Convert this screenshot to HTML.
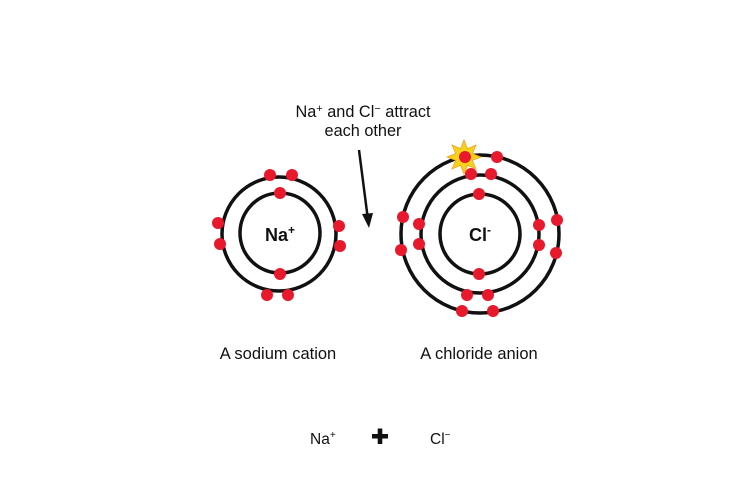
<!DOCTYPE html>
<html><head><meta charset="utf-8"><style>
html,body{margin:0;padding:0;background:#fff}
svg{display:block}
text{font-family:"Liberation Sans",Arial,sans-serif;fill:#111}
</style></head><body>
<svg width="750" height="500" viewBox="0 0 750 500" xmlns="http://www.w3.org/2000/svg">
<g fill="none" stroke="#111" stroke-width="3.5">
<circle cx="280" cy="233" r="40"/>
<circle cx="279" cy="234" r="57"/>
<circle cx="480" cy="234" r="40"/>
<circle cx="480" cy="234" r="59"/>
<circle cx="480" cy="234" r="79"/>
</g>
<polygon fill="#f7d21a" stroke="#f0a020" stroke-width="0.8" points="464,140 467.4,148.7 476,145 472.3,153.6 481,157 472.3,160.4 476,169 467.4,165.3 464,174 460.6,165.3 452,169 455.7,160.4 447,157 455.7,153.6 452,145 460.6,148.7"/>
<g fill="#e8192c">
<circle cx="280" cy="193" r="6"/><circle cx="280" cy="274" r="6"/>
<circle cx="270" cy="175" r="6"/><circle cx="292" cy="175" r="6"/>
<circle cx="267" cy="295" r="6"/><circle cx="288" cy="295" r="6"/>
<circle cx="218" cy="223" r="6"/><circle cx="220" cy="244" r="6"/>
<circle cx="339" cy="226" r="6"/><circle cx="340" cy="246" r="6"/>
<circle cx="479" cy="194" r="6"/><circle cx="479" cy="274" r="6"/>
<circle cx="471" cy="174" r="6"/><circle cx="491" cy="174" r="6"/>
<circle cx="467" cy="295" r="6"/><circle cx="488" cy="295" r="6"/>
<circle cx="419" cy="224" r="6"/><circle cx="419" cy="244" r="6"/>
<circle cx="539" cy="225" r="6"/><circle cx="539" cy="245" r="6"/>
<circle cx="465" cy="157" r="6"/><circle cx="497" cy="157" r="6"/>
<circle cx="403" cy="217" r="6"/><circle cx="401" cy="250" r="6"/>
<circle cx="557" cy="220" r="6"/><circle cx="556" cy="253" r="6"/>
<circle cx="462" cy="311" r="6"/><circle cx="493" cy="311" r="6"/>
</g>
<line x1="359" y1="150" x2="367.5" y2="216" stroke="#111" stroke-width="2.5"/>
<polygon fill="#111" points="369,228 362,214 373,213"/>
<text x="280" y="241" text-anchor="middle" font-size="18" font-weight="bold">Na<tspan font-size="12" dy="-7">+</tspan></text>
<text x="480" y="241" text-anchor="middle" font-size="18" font-weight="bold">Cl<tspan font-size="12" dy="-7">-</tspan></text>
<text x="363" y="117" text-anchor="middle" font-size="16.3">Na<tspan font-size="11" dy="-5">+</tspan><tspan dy="5"> and Cl</tspan><tspan font-size="11" dy="-5">−</tspan><tspan dy="5"> attract</tspan></text>
<text x="363" y="136" text-anchor="middle" font-size="16.3">each other</text>
<text x="278" y="359" text-anchor="middle" font-size="16.5">A sodium cation</text>
<text x="479" y="359" text-anchor="middle" font-size="16.5">A chloride anion</text>
<text x="310" y="444" font-size="15.5">Na<tspan font-size="10" dy="-6">+</tspan></text>
<rect x="372" y="434" width="16" height="4.5" fill="#111"/>
<rect x="377.7" y="428.5" width="4.6" height="15.5" fill="#111"/>
<text x="430" y="444" font-size="15.5">Cl<tspan font-size="10" dy="-6">−</tspan></text>
</svg>
</body></html>
